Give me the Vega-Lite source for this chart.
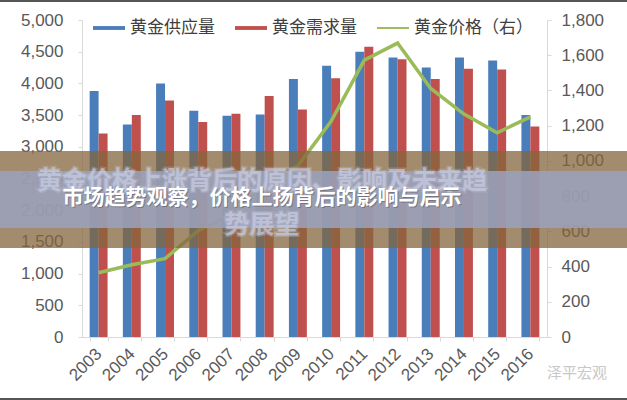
{
  "$schema": "https://vega.github.io/schema/vega-lite/v6.json",
  "width": 465,
  "height": 317,
  "autosize": {"type": "none"},
  "padding": {"left": 82, "top": 20, "right": 80, "bottom": 63},
  "background": "white",
  "config": {"view": {"stroke": null}, "font": "Liberation Sans"},
  "datasets": {
    "bars": [
      {"year": "2003", "series": "黄金供应量", "value": 3880}, {"year": "2003", "series": "黄金需求量", "value": 3210},
      {"year": "2004", "series": "黄金供应量", "value": 3350}, {"year": "2004", "series": "黄金需求量", "value": 3500},
      {"year": "2005", "series": "黄金供应量", "value": 4000}, {"year": "2005", "series": "黄金需求量", "value": 3730},
      {"year": "2006", "series": "黄金供应量", "value": 3570}, {"year": "2006", "series": "黄金需求量", "value": 3390},
      {"year": "2007", "series": "黄金供应量", "value": 3490}, {"year": "2007", "series": "黄金需求量", "value": 3520},
      {"year": "2008", "series": "黄金供应量", "value": 3510}, {"year": "2008", "series": "黄金需求量", "value": 3800},
      {"year": "2009", "series": "黄金供应量", "value": 4070}, {"year": "2009", "series": "黄金需求量", "value": 3590},
      {"year": "2010", "series": "黄金供应量", "value": 4280}, {"year": "2010", "series": "黄金需求量", "value": 4080},
      {"year": "2011", "series": "黄金供应量", "value": 4500}, {"year": "2011", "series": "黄金需求量", "value": 4580},
      {"year": "2012", "series": "黄金供应量", "value": 4410}, {"year": "2012", "series": "黄金需求量", "value": 4380},
      {"year": "2013", "series": "黄金供应量", "value": 4250}, {"year": "2013", "series": "黄金需求量", "value": 4070},
      {"year": "2014", "series": "黄金供应量", "value": 4410}, {"year": "2014", "series": "黄金需求量", "value": 4230},
      {"year": "2015", "series": "黄金供应量", "value": 4360}, {"year": "2015", "series": "黄金需求量", "value": 4220},
      {"year": "2016", "series": "黄金供应量", "value": 3500}, {"year": "2016", "series": "黄金需求量", "value": 3320}
    ],
    "price": [
      {"year": "2003", "series": "黄金价格（右）", "price": 365},
      {"year": "2004", "series": "黄金价格（右）", "price": 410},
      {"year": "2005", "series": "黄金价格（右）", "price": 445},
      {"year": "2006", "series": "黄金价格（右）", "price": 604},
      {"year": "2007", "series": "黄金价格（右）", "price": 697},
      {"year": "2008", "series": "黄金价格（右）", "price": 872},
      {"year": "2009", "series": "黄金价格（右）", "price": 972},
      {"year": "2010", "series": "黄金价格（右）", "price": 1225},
      {"year": "2011", "series": "黄金价格（右）", "price": 1572},
      {"year": "2012", "series": "黄金价格（右）", "price": 1669},
      {"year": "2013", "series": "黄金价格（右）", "price": 1411},
      {"year": "2014", "series": "黄金价格（右）", "price": 1266},
      {"year": "2015", "series": "黄金价格（右）", "price": 1160},
      {"year": "2016", "series": "黄金价格（右）", "price": 1250}
    ]
  },
  "layer": [
    {
      "layer": [
        {
          "data": {"name": "bars"},
          "mark": {"type": "bar"},
          "encoding": {
            "x": {
              "field": "year", "type": "ordinal",
              "scale": {"paddingInner": 0.46, "paddingOuter": 0.23},
              "axis": {"title": null, "labelAngle": -45, "labelAlign": "right", "labelBaseline": "middle", "labelPadding": 10,
                       "labelFontSize": 17, "labelColor": "#595959", "domainColor": "#d9d9d9", "tickColor": "#d9d9d9",
                       "tickSize": 4, "tickBand": "extent"}
            },
            "xOffset": {"field": "series", "sort": ["黄金供应量", "黄金需求量"]},
            "y": {
              "field": "value", "type": "quantitative",
              "scale": {"domain": [0, 5000], "nice": false},
              "axis": {"orient": "left", "title": null, "grid": false, "format": ",d",
                       "values": [0, 500, 1000, 1500, 2000, 2500, 3000, 3500, 4000, 4500, 5000],
                       "labelFontSize": 17, "labelColor": "#595959", "labelPadding": 15,
                       "domainColor": "#d9d9d9", "tickColor": "#d9d9d9", "tickSize": 4}
            },
            "color": {
              "field": "series", "type": "nominal",
              "scale": {"domain": ["黄金供应量", "黄金需求量", "黄金价格（右）"], "range": ["#4a7ebb", "#c0504d", "#9bbb59"]},
              "legend": {
                "orient": "none", "legendX": 11, "legendY": -8, "direction": "horizontal", "title": null,
                "labelFont": "Noto Sans CJK SC", "labelFontSize": 17, "labelColor": "#404040",
                "symbolSize": 1024, "labelOffset": 5, "columnPadding": 20,
                "encode": {
                  "symbols": {
                    "update": {
                      "shape": {"signal": "datum.value === '黄金价格（右）' ? 'M-1,-0.06H1V0.06H-1Z' : 'M-1,-0.12H1V0.12H-1Z'"},
                      "fill": {"signal": "datum.value === '黄金供应量' ? '#4a7ebb' : (datum.value === '黄金需求量' ? '#c0504d' : '#9bbb59')"},
                      "stroke": {"value": "transparent"},
                      "strokeWidth": {"value": 0},
                      "opacity": {"value": 1}
                    }
                  }
                }
              }
            }
          }
        },
        {
          "data": {"name": "price"},
          "mark": {"type": "line", "strokeWidth": 3.5},
          "encoding": {
            "x": {"field": "year", "type": "ordinal"},
            "y": {
              "field": "price", "type": "quantitative",
              "scale": {"domain": [0, 1800], "nice": false},
              "axis": {"orient": "right", "title": null, "grid": false, "format": ",d",
                       "values": [0, 200, 400, 600, 800, 1000, 1200, 1400, 1600, 1800],
                       "labelFontSize": 17, "labelColor": "#595959", "labelPadding": 10,
                       "domainColor": "#d9d9d9", "tickColor": "#d9d9d9", "tickSize": 4}
            },
            "color": {"field": "series", "type": "nominal"}
          }
        }
      ],
      "resolve": {"scale": {"y": "independent"}}
    },
    {
      "data": {"values": [{}]},
      "layer": [
        {
          "mark": {"type": "rect", "color": "#84663c", "opacity": 0.75},
          "encoding": {
            "x": {"datum": -0.18, "type": "quantitative", "scale": {"domain": [0, 1], "nice": false, "zero": false}, "axis": null},
            "x2": {"datum": 1.18},
            "y": {"datum": 0.5868, "type": "quantitative", "scale": {"domain": [0, 1], "nice": false, "zero": false}, "axis": null},
            "y2": {"datum": 0.2808}
          }
        },
        {
          "mark": {"type": "rect", "color": "#9ba2bd", "opacity": 0.85},
          "encoding": {
            "x": {"datum": -0.18, "type": "quantitative"},
            "x2": {"datum": 1.18},
            "y": {"datum": 0.5237, "type": "quantitative"},
            "y2": {"datum": 0.3438}
          }
        },
        {
          "mark": {"type": "text", "font": "Noto Sans CJK SC", "fontWeight": "bold", "fontSize": 25, "color": "#c9cee6", "opacity": 0.75,
                   "stroke": "#c9cee6", "strokeWidth": 3, "strokeOpacity": 0.35, "align": "center", "baseline": "middle"},
          "encoding": {
            "x": {"datum": 0.387, "type": "quantitative"},
            "y": {"datum": 0.492, "type": "quantitative"},
            "text": {"value": "黄金价格上涨背后的原因、影响及未来趋"}
          }
        },
        {
          "mark": {"type": "text", "font": "Noto Sans CJK SC", "fontWeight": "bold", "fontSize": 25, "color": "#c9cee6", "opacity": 0.75,
                   "stroke": "#c9cee6", "strokeWidth": 3, "strokeOpacity": 0.35, "align": "center", "baseline": "middle"},
          "encoding": {
            "x": {"datum": 0.387, "type": "quantitative"},
            "y": {"datum": 0.353, "type": "quantitative"},
            "text": {"value": "势展望"}
          }
        },
        {
          "mark": {"type": "text", "font": "Noto Sans CJK SC", "fontWeight": "bold", "fontSize": 21, "color": "#333333", "opacity": 0.35,
                   "align": "center", "baseline": "middle", "dx": 1, "dy": 1},
          "encoding": {
            "x": {"datum": 0.387, "type": "quantitative"},
            "y": {"datum": 0.4385, "type": "quantitative"},
            "text": {"value": "市场趋势观察，价格上扬背后的影响与启示"}
          }
        },
        {
          "mark": {"type": "text", "font": "Noto Sans CJK SC", "fontWeight": "bold", "fontSize": 21, "color": "#ffffff",
                   "align": "center", "baseline": "middle"},
          "encoding": {
            "x": {"datum": 0.387, "type": "quantitative"},
            "y": {"datum": 0.4385, "type": "quantitative"},
            "text": {"value": "市场趋势观察，价格上扬背后的影响与启示"}
          }
        },
        {
          "mark": {"type": "text", "font": "Noto Sans CJK SC", "fontSize": 15, "color": "#c8c8c8", "align": "center", "baseline": "middle"},
          "encoding": {
            "x": {"datum": 1.0645, "type": "quantitative"},
            "y": {"datum": -0.1136, "type": "quantitative"},
            "text": {"value": "泽平宏观"}
          }
        },
        {
          "mark": {"type": "rule", "color": "#555555", "strokeWidth": 2},
          "encoding": {
            "x": {"datum": -0.18, "type": "quantitative"},
            "x2": {"datum": 1.18},
            "y": {"datum": 1.06, "type": "quantitative"}
          }
        },
        {
          "mark": {"type": "rule", "color": "#555555", "strokeWidth": 2},
          "encoding": {
            "x": {"datum": -0.18, "type": "quantitative"},
            "x2": {"datum": 1.18},
            "y": {"datum": -0.1956, "type": "quantitative"}
          }
        }
      ]
    }
  ],
  "resolve": {"scale": {"x": "independent", "y": "independent"}}
}
